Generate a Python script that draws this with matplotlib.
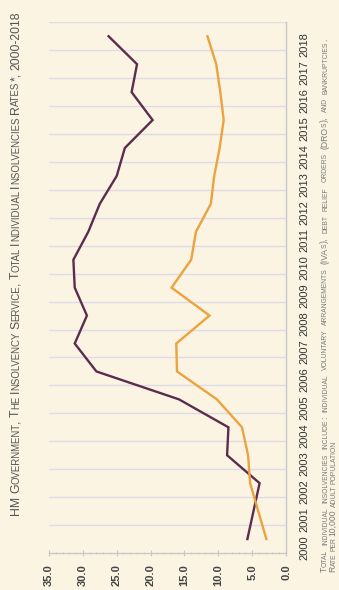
import numpy as np
import matplotlib
matplotlib.use("Agg")
from matplotlib import pyplot as plt
from matplotlib.font_manager import FontProperties

plt.rcParams['font.family'] = ['Liberation Sans', 'DejaVu Sans']

# data (rates per 10,000 adults)
years = list(range(2000, 2019))
total_rate = [5.7, 4.8, 3.9, 8.7, 8.5, 15.8, 28.0, 31.2, 29.4, 31.2, 31.4,
              29.2, 27.5, 25.0, 23.8, 19.7, 22.8, 22.0, 26.2]
other_rate = [2.9, 4.1, 5.3, 5.6, 6.5, 10.2, 16.1, 16.2, 11.3, 16.9, 14.0,
              13.3, 11.1, 10.6, 9.8, 9.2, 9.7, 10.3, 11.6]
value_ticks = [0, 5, 10, 15, 20, 25, 30, 35]

title = "HM Government, The Insolvency Service, Total Individual Insolvencies Rates*, 2000-2018"
note1 = ("Total individual insolvencies include: individual voluntary arrangements "
         "(IVAs), debt relief orders (DROs), and bankruptcies.")
note2 = "Rate per 10,000 adult population"

BG = '#fcf4e2'
PURPLE = '#5b2c4e'
ORANGE = '#eba23f'
GRID = '#dcdce9'
AXIS = '#c8c8c8'

W, H = 339, 590
fig = plt.figure(figsize=(W / 100, H / 100), dpi=100, facecolor=BG)
ax = fig.add_axes([49 / W, 1 - 553 / H, 237 / W, 530.7 / H], facecolor=BG)

ax.plot(total_rate, years, color=PURPLE, lw=1.7, solid_joinstyle='miter')
ax.plot(other_rate, years, color=ORANGE, lw=1.7, solid_joinstyle='miter')

ax.set_xlim(35, 0)
ax.set_ylim(1999.5, 2018.5)

# year axis on the right, labels rotated like the source
ax.yaxis.tick_right()
ax.set_yticks(years)
ax.set_yticklabels([str(y) for y in years], rotation=90, fontsize=8, color='#333333')
ax.set_yticks(np.arange(2000.5, 2018.6, 1), minor=True)
ax.tick_params(axis='y', which='both', length=0, pad=10)
ax.grid(True, axis='y', which='minor', color=GRID, lw=1)
ax.set_axisbelow(True)

ax.set_xticks(value_ticks)
ax.set_xticklabels(['%.1f' % v for v in value_ticks], rotation=90,
                   fontsize=8, fontweight='bold', color='#444444')
ax.set_xticks(np.arange(0, 36, 1), minor=True)
ax.tick_params(axis='x', which='major', length=4, direction='inout', color=AXIS, pad=6)
ax.tick_params(axis='x', which='minor', length=2, direction='inout', color=AXIS)

for s in ['left', 'top']:
    ax.spines[s].set_visible(False)
for s in ['bottom', 'right']:
    ax.spines[s].set_color(AXIS)
    ax.spines[s].set_linewidth(1)

renderer = fig.canvas.get_renderer()
RATIO = 0.78


def run_width(s, size):
    prop = FontProperties(family='Liberation Sans', size=size)
    a = renderer.get_text_width_height_descent('|' + s + '|', prop, ismath=False)[0]
    b = renderer.get_text_width_height_descent('||', prop, ismath=False)[0]
    return a - b


def word_runs(word):
    runs = []
    for ch in word:
        small = ch.islower()
        if runs and runs[-1][1] == small:
            runs[-1][0] += ch.upper()
        else:
            runs.append([ch.upper(), small])
    return runs


def phrase_width(text, size):
    words = text.split(' ')
    total = sum(run_width(s, size * (RATIO if sm else 1))
                for w in words for s, sm in word_runs(w))
    return total, (len(words) - 1) * run_width(' ', size * RATIO)


def small_caps(x, y, text, color, size, length=None):
    # fake small caps, drawn bottom to top from pixel (x, y) measured from top-left
    words = text.split(' ')
    ink, spaces = phrase_width(text, size)
    gap = run_width(' ', size * RATIO)
    if length is not None and len(words) > 1:
        gap = (length - ink) / (len(words) - 1)
    pos = y
    for w in words:
        for s, sm in word_runs(w):
            sz = size * (RATIO if sm else 1)
            fig.text(x / W, 1 - pos / H, s, rotation=90, rotation_mode='anchor',
                     ha='left', va='baseline', fontsize=sz, color=color)
            pos -= run_width(s, sz)
        pos -= gap


def fit_size(text, length):
    ink, spaces = phrase_width(text, 10)
    return 10 * length / (ink + spaces)


small_caps(19, 515, title, '#555555', fit_size(title, 505))
fs = fit_size(note2, 132)
small_caps(327, 572, note1, '#7a7a7a', fs, length=533)
small_caps(335.5, 572, note2, '#7a7a7a', fs)

fig.savefig('out.png', dpi=100, facecolor=BG)
